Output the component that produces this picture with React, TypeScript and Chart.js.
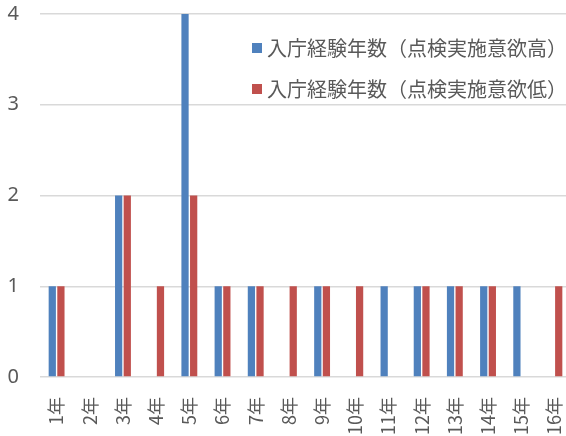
import React, { useEffect, useRef } from "react";
import { Chart, registerables } from "chart.js";

Chart.register(...registerables);

const categories = ["1年", "2年", "3年", "4年", "5年", "6年", "7年", "8年", "9年", "10年", "11年", "12年", "13年", "14年", "15年", "16年"];
const highLabel = "入庁経験年数（点検実施意欲高）";
const lowLabel = "入庁経験年数（点検実施意欲低）";
const highValues = [1, 0, 2, 0, 4, 1, 1, 0, 1, 0, 1, 1, 1, 1, 1, 0];
const lowValues = [1, 0, 2, 1, 2, 1, 1, 1, 1, 1, 0, 1, 1, 1, 0, 1];
const yTicks = [0, 1, 2, 3, 4];

const FONT = '"Noto Sans CJK JP", "Noto Sans", sans-serif';
const TEXT = "#595959";

// Legend drawn inside the plot area, stacked in the upper right.
const innerLegend = {
  id: "innerLegend",
  afterDraw(chart: any) {
    const { ctx } = chart;
    const items = chart.data.datasets;
    ctx.save();
    ctx.font = `20px ${FONT}`;
    ctx.textBaseline = "middle";
    ctx.textAlign = "left";
    const x0 = 252;
    const ys = [48, 89];
    items.forEach((ds: any, i: number) => {
      const y = ys[i];
      ctx.fillStyle = ds.backgroundColor;
      ctx.fillRect(x0, y - 5, 10, 10);
      ctx.fillStyle = TEXT;
      ctx.fillText(ds.label, x0 + 15, y);
    });
    ctx.restore();
  },
};

export default function App() {
  const ref = useRef<HTMLCanvasElement>(null);
  useEffect(() => {
    if (!ref.current) return;
    const chart = new Chart(ref.current, {
      type: "bar",
      data: {
        labels: categories,
        datasets: [
          { label: highLabel, data: highValues, backgroundColor: "#4F81BD", categoryPercentage: 0.52, barPercentage: 0.84 },
          { label: lowLabel, data: lowValues, backgroundColor: "#C0504D", categoryPercentage: 0.52, barPercentage: 0.84 },
        ],
      },
      options: {
        responsive: false,
        animation: false,
        layout: { padding: { top: 14, right: 0, left: 0, bottom: 0 } },
        plugins: { legend: { display: false }, tooltip: { enabled: false } },
        scales: {
          x: {
            grid: { display: false },
            border: { display: false },
            ticks: { color: TEXT, font: { family: FONT, size: 18 }, minRotation: 90, maxRotation: 90, padding: 12, autoSkip: false },
            afterFit(axis: any) {
              axis.height = 59;
              axis.paddingLeft = 0;
              axis.paddingRight = 0;
            },
          },
          y: {
            min: 0,
            max: 4,
            afterBuildTicks(axis: any) { axis.ticks = yTicks.map((v) => ({ value: v })); },
            grid: { color: "#D9D9D9", lineWidth: 1.5, drawTicks: false },
            border: { display: false },
            ticks: { color: TEXT, font: { family: '"Noto Sans", sans-serif', size: 20 }, padding: 21 },
            afterFit(axis: any) {
              axis.width = 40;
              axis.paddingTop = 0;
              axis.paddingBottom = 0;
            },
          },
        },
      },
      plugins: [innerLegend],
    });
    return () => chart.destroy();
  }, []);
  return (
    <div style={{ position: "fixed", left: 0, top: 0, width: 566, height: 436, background: "#fff", overflow: "hidden" }}>
      <canvas ref={ref} width={571} height={436} style={{ width: 571, height: 436, display: "block" }} />
    </div>
  );
}
